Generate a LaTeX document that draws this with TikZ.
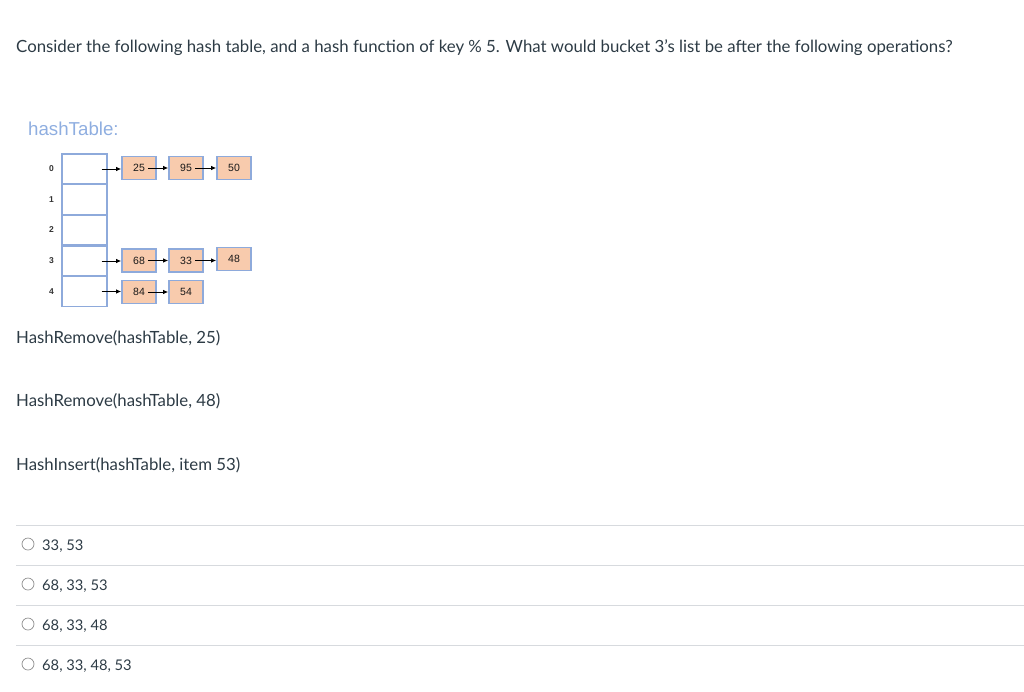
\documentclass[tikz,border=0pt]{standalone}
\usepackage{fontspec}
\setmainfont{Lato}
\newfontfamily\arialf{Liberation Sans}
\usetikzlibrary{arrows.meta}
\definecolor{txt}{HTML}{2D3B45}
\definecolor{cellblue}{HTML}{8EAADB}
\definecolor{peach}{HTML}{F8CBAD}
\definecolor{titleblue}{HTML}{8FAEE0}
\definecolor{sepgray}{HTML}{D7DADE}
\tikzset{
  qtext/.style={anchor=west, inner sep=0pt, text=txt, font=\fontsize{16.8}{20}\selectfont, yshift=-1.8pt},
  atext/.style={anchor=west, inner sep=0pt, text=txt, font=\fontsize{14.7}{18}\selectfont, yshift=-1.8pt},
  cell/.style={draw=cellblue, line width=1.8pt, minimum width=45pt, minimum height=30pt, inner sep=0pt},
  item/.style={draw=cellblue, line width=1.8pt, fill=peach, minimum width=34pt, minimum height=23pt, inner sep=0pt, font=\arialf\fontsize{10.5}{12}\selectfont, text=black!90},
  idx/.style={font=\arialf\fontsize{8.5}{10}\selectfont\bfseries, text=black!80, inner sep=0pt},
  ptr/.style={-{Latex[length=5pt,width=4.5pt]}, line width=0.8pt, black},
  sep/.style={draw=sepgray, line width=0.8pt},
  radio/.style={draw=gray!90, line width=0.7pt, circle, minimum size=12pt, inner sep=0pt}
}
\begin{document}
\begin{tikzpicture}[x=1pt,y=-1pt]
\useasboundingbox (0,0) rectangle (1024,691);
\node[qtext] (q) at (16,46) {Consider the following hash table, and a hash function of key \% 5. What would bucket 3's list be after the following operations?};
\node[anchor=west, inner sep=0pt, text=titleblue, font=\arialf\fontsize{18.7}{21}\selectfont, yshift=-1pt] (ht) at (28,128) {hashTable:};
% table cells
\foreach \i/\y in {0/169,1/199.5,2/230,3/261,4/291.5}{
  \node[cell] (c\i) at (84.5,\y) {};
  \node[idx] (l\i) at (51.5,\y) {\i};
  \coordinate (p\i) at (101.5,\y);
}
% bucket 0
\node[item] (a25) at (139,168) {25};
\node[item] (a95) at (186,168) {95};
\node[item] (a50) at (234,168) {50};
% bucket 3
\node[item] (b68) at (139,260.5) {68};
\node[item] (b33) at (186,260.5) {33};
\node[item] (b48) at (234,259) {48};
% bucket 4
\node[item] (d84) at (139,292) {84};
\node[item] (d54) at (186,292) {54};
\draw[ptr] (p0) -- (a25.west |- p0);
\draw[ptr] ([xshift=9pt]a25.center) -- (a95.west);
\draw[ptr] ([xshift=9pt]a95.center) -- (a50.west |- a95.center);
\draw[ptr] (p3) -- (b68.west |- p3);
\draw[ptr] ([xshift=9pt]b68.center) -- (b33.west);
\draw[ptr] ([xshift=9pt]b33.center) -- (b48.west |- b33.center);
\draw[ptr] (p4) -- (d84.west |- p4);
\draw[ptr] ([xshift=9pt]d84.center) -- (d54.west);
% operations
\node[qtext] (op1) at (16,336) {HashRemove(hashTable, 25)};
\node[qtext] (op2) at (16,399) {HashRemove(hashTable, 48)};
\node[qtext] (op3) at (16,463) {HashInsert(hashTable, item 53)};
% answers
\foreach \y in {525,565,605,645}{
  \draw[sep] (16,\y) -- (1024,\y);
}
\foreach \n/\y/\t in {1/544/{33, 53},2/584/{68, 33, 53},3/624/{68, 33, 48},4/664/{68, 33, 48, 53}}{
  \node[radio] (r\n) at (28,\y) {};
  \node[atext] (t\n) at (42,\y) {\t};
}
\end{tikzpicture}
\end{document}
